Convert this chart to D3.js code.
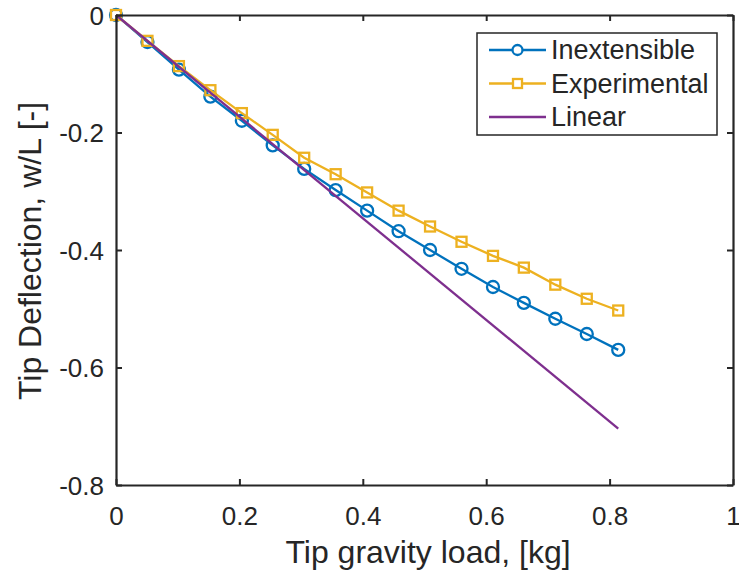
<!DOCTYPE html>
<html>
<head>
<meta charset="utf-8">
<script src="https://cdn.jsdelivr.net/npm/d3@7"></script>
<style>
body { margin: 0; background: #fff; }
text { font-family: "Liberation Sans", Arial, sans-serif; fill: #262626; }
</style>
</head>
<body>
<svg id="chart" width="739" height="579"></svg>
<script>
const loadX = [0, 0.051, 0.102, 0.153, 0.204, 0.254, 0.305, 0.356, 0.407, 0.458, 0.509, 0.560, 0.611, 0.661, 0.712, 0.763, 0.814];
const inextensibleY = [0, -0.046, -0.093, -0.139, -0.180, -0.222, -0.262, -0.298, -0.333, -0.368, -0.400, -0.432, -0.463, -0.490, -0.517, -0.543, -0.570];
const experimentalY = [0, -0.044, -0.087, -0.128, -0.167, -0.204, -0.243, -0.271, -0.302, -0.333, -0.360, -0.386, -0.410, -0.430, -0.459, -0.483, -0.503];
const linearX = [0, 0.814];
const linearY = [0, -0.704];
const xTicks = [0, 0.2, 0.4, 0.6, 0.8, 1];
const yTicks = [0, -0.2, -0.4, -0.6, -0.8];
const seriesNames = ["Inextensible", "Experimental", "Linear"];
const colors = ["#0072BD", "#EDB120", "#7E2F8E"];

(function () {
const svg = d3.select("#chart");
const L = 116, R = 733, T = 15, B = 485;
const x = d3.scaleLinear().domain([0, 1]).range([L, R]);
const y = d3.scaleLinear().domain([-0.8, 0]).range([B, T]);
const axisColor = "#262626";
const tickFmt = d => d === 0 ? "0" : String(+d.toFixed(1));
const lw = 2.3;

const line = d3.line().x(d => x(d[0])).y(d => y(d[1]));
const inextData = loadX.map((v, i) => [v, inextensibleY[i]]);
const expData = loadX.map((v, i) => [v, experimentalY[i]]);
const linData = linearX.map((v, i) => [v, linearY[i]]);

const g = svg.append("g");
g.append("path").datum(inextData).attr("d", line).attr("fill", "none").attr("stroke", colors[0]).attr("stroke-width", lw);
g.selectAll("circle.m").data(inextData).enter().append("circle")
  .attr("cx", d => x(d[0])).attr("cy", d => y(d[1])).attr("r", 6)
  .attr("fill", "none").attr("stroke", colors[0]).attr("stroke-width", lw);
g.append("path").datum(expData).attr("d", line).attr("fill", "none").attr("stroke", colors[1]).attr("stroke-width", lw);
g.selectAll("rect.m").data(expData).enter().append("rect")
  .attr("x", d => x(d[0]) - 5).attr("y", d => y(d[1]) - 5).attr("width", 10).attr("height", 10)
  .attr("fill", "none").attr("stroke", colors[1]).attr("stroke-width", lw);
g.append("path").datum(linData).attr("d", line).attr("fill", "none").attr("stroke", colors[2]).attr("stroke-width", lw);

const axB = svg.append("g").attr("transform", `translate(0,${B})`)
  .call(d3.axisBottom(x).tickValues(xTicks).tickSizeInner(-6).tickSizeOuter(0).tickPadding(22).tickFormat(tickFmt));
const axT = svg.append("g").attr("transform", `translate(0,${T})`)
  .call(d3.axisTop(x).tickValues(xTicks).tickSizeInner(-6).tickSizeOuter(0).tickFormat(""));
const axL = svg.append("g").attr("transform", `translate(${L},0)`)
  .call(d3.axisLeft(y).tickValues(yTicks).tickSizeInner(-6).tickSizeOuter(0).tickPadding(12).tickFormat(tickFmt));
const axR = svg.append("g").attr("transform", `translate(${R},0)`)
  .call(d3.axisRight(y).tickValues(yTicks).tickSizeInner(-6).tickSizeOuter(0).tickFormat(""));
[axB, axT, axL, axR].forEach(a => {
  a.select(".domain").attr("stroke", axisColor).attr("stroke-width", 2.2);
  a.selectAll(".tick line").attr("stroke", axisColor).attr("stroke-width", 2);
  a.selectAll("text").attr("font-size", 26).attr("fill", axisColor)
    .style("font-family", "'Liberation Sans', Arial, sans-serif");
});
axL.selectAll(".tick text").attr("dy", "0.36em");

svg.append("text").attr("x", 428).attr("y", 563).attr("text-anchor", "middle")
  .attr("font-size", 32).text("Tip gravity load, [kg]");
svg.append("text").attr("transform", `translate(41,251) rotate(-90)`)
  .attr("text-anchor", "middle").attr("font-size", 32).text("Tip Deflection, w/L [-]");

const lg = svg.append("g");
lg.append("rect").attr("x", 477).attr("y", 33).attr("width", 240).attr("height", 102)
  .attr("fill", "#fff").attr("stroke", axisColor).attr("stroke-width", 1.5);
seriesNames.forEach((name, i) => {
  const cy = 50 + i * 33.5;
  lg.append("line").attr("x1", 489).attr("x2", 546).attr("y1", cy).attr("y2", cy)
    .attr("stroke", colors[i]).attr("stroke-width", lw);
  if (i === 0) lg.append("circle").attr("cx", 517.5).attr("cy", cy).attr("r", 5)
    .attr("fill", "#fff").attr("stroke", colors[i]).attr("stroke-width", lw);
  if (i === 1) lg.append("rect").attr("x", 513).attr("y", cy - 4.5).attr("width", 9).attr("height", 9)
    .attr("fill", "#fff").attr("stroke", colors[i]).attr("stroke-width", lw);
  lg.append("text").attr("x", 551).attr("y", cy).attr("dy", "0.35em").attr("font-size", 27).text(name);
});
})();
</script>
</body>
</html>
